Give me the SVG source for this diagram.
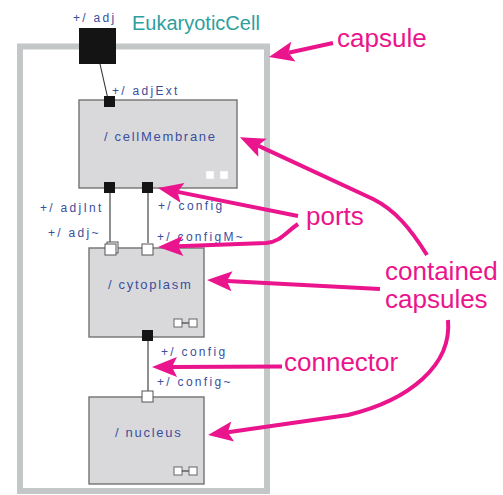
<svg xmlns="http://www.w3.org/2000/svg" width="503" height="495" viewBox="0 0 503 495">
<style>
.frame{fill:#fff;stroke:#c4c7c7;stroke-width:6}
.box{fill:#d9d9dc;stroke:#727272;stroke-width:1.4}
.pb{fill:#141414}
.pw{fill:#fff;stroke:#555;stroke-width:1}
.ic{fill:#fff;stroke:#666;stroke-width:1}
.ic2{fill:#fff;stroke:#ddd;stroke-width:0.5}
.wire{stroke:#333;stroke-width:1.1;fill:none}
.lbl{font-family:"Liberation Sans",Arial,sans-serif;font-size:12px;letter-spacing:2.3px;fill:#3a4f9c}
.nm{font-family:"Liberation Sans",Arial,sans-serif;font-size:13px;letter-spacing:1.7px;fill:#3a4f9c}
.title{font-family:"Liberation Sans",Arial,sans-serif;font-size:20px;fill:#2e9e9e}
.anno{font-family:"Liberation Sans",Arial,sans-serif;font-size:26px;fill:#ea148c}
.arr{stroke:#ea148c;stroke-width:4;fill:none;marker-end:url(#ah)}
</style>
<defs>
<marker id="ah" markerUnits="userSpaceOnUse" markerWidth="27" markerHeight="24" viewBox="0 -12 27 24" refX="5" refY="0" orient="auto" overflow="visible">
<path d="M0,-10 L25,0 L0,10 L5,0 Z" fill="#ea148c"/>
</marker>
</defs>

<g id="EukaryoticCell">
<rect class="frame" x="20" y="46.5" width="247" height="444.5"/>
<text class="title" x="132" y="30">EukaryoticCell</text>
</g>

<g id="connectors">
<line class="wire" x1="100" y1="64" x2="107.5" y2="97"/>
<line class="wire" x1="110" y1="193" x2="110" y2="243"/>
<line class="wire" x1="148" y1="193" x2="148" y2="243"/>
<line class="wire" x1="148" y1="341" x2="148" y2="391"/>
</g>

<g id="port-adj">
<rect class="pb" x="79" y="28" width="37" height="36"/>
<text class="lbl" x="73" y="22">+/ adj</text>
</g>

<g id="cellMembrane">
<rect class="box" x="79" y="100" width="158" height="88"/>
<text class="nm" x="104" y="141">/ cellMembrane</text>
<rect class="ic2" x="206" y="171" width="8" height="8"/>
<rect class="ic2" x="220" y="171" width="8" height="8"/>
<rect class="pb" x="104" y="96" width="11" height="11"/>
<text class="lbl" x="112" y="95">+/ adjExt</text>
<rect class="pb" x="104" y="182" width="11" height="11"/>
<rect class="pb" x="142" y="182" width="11" height="11"/>
<text class="lbl" x="40" y="212">+/ adjInt</text>
<text class="lbl" x="158" y="210">+/ config</text>
</g>

<g id="cytoplasm">
<rect class="box" x="89" y="248" width="115" height="89"/>
<text class="nm" x="108" y="289">/ cytoplasm</text>
<rect class="ic" x="174" y="319" width="8" height="8"/>
<line class="wire" x1="182" y1="323" x2="189" y2="323"/>
<rect class="ic" x="189" y="319" width="8" height="8"/>
<rect class="pw" x="107" y="242" width="11" height="11"/>
<rect class="pw" x="105" y="244" width="11" height="11"/>
<rect class="pw" x="142" y="244" width="11" height="11"/>
<text class="lbl" x="48" y="237">+/ adj~</text>
<text class="lbl" x="157" y="241">+/ configM~</text>
<rect class="pb" x="142" y="330" width="11" height="11"/>
<text class="lbl" x="161" y="356">+/ config</text>
</g>

<g id="nucleus">
<rect class="box" x="89" y="397" width="115" height="87"/>
<text class="nm" x="115" y="437">/ nucleus</text>
<rect class="ic" x="174" y="467" width="8" height="8"/>
<line class="wire" x1="182" y1="471" x2="189" y2="471"/>
<rect class="ic" x="189" y="467" width="8" height="8"/>
<rect class="pw" x="142" y="391" width="11" height="11"/>
<text class="lbl" x="157" y="386">+/ config~</text>
</g>

<g id="annotations">
<text class="anno" x="337" y="47" font-size="27">capsule</text>
<text class="anno" x="306" y="225">ports</text>
<text class="anno" x="385" y="280">contained</text>
<text class="anno" x="385" y="308" font-size="27">capsules</text>
<text class="anno" x="284" y="371" font-size="27">connector</text>
<path class="arr" d="M333,43 L288.5,52.7"/>
<path class="arr" d="M427,255 C410,228 395,210 373,199 L258,145.6"/>
<path class="arr" d="M298,216 L177.6,191.9"/>
<path class="arr" d="M298,224 C285,233 280,242 266,243 L178,246.3"/>
<path class="arr" d="M380,289 L227,281"/>
<path class="arr" d="M282,366.5 L172,367"/>
<path class="arr" d="M448,320 C452,365 410,400 348,415 L227.8,432.2"/>
</g>
</svg>
